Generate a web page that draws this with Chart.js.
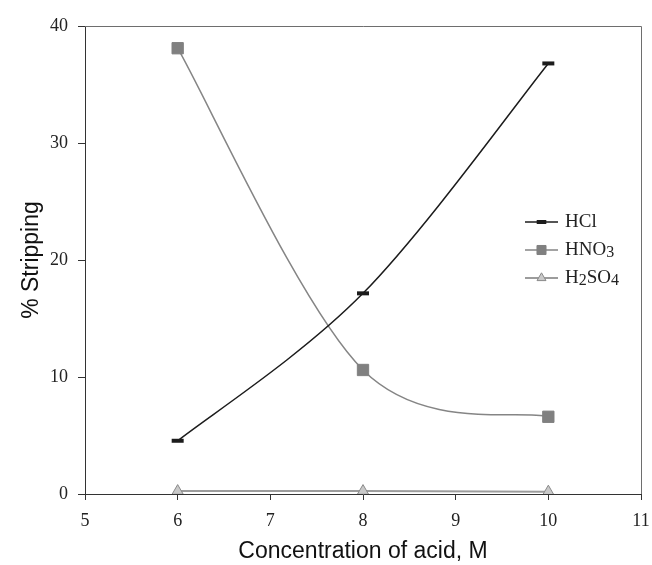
<!DOCTYPE html>
<html>
<head>
<meta charset="utf-8">
<script src="https://cdn.jsdelivr.net/npm/chart.js@4.4.0/dist/chart.umd.min.js"></script>
<style>
  html, body { margin: 0; padding: 0; background: #fff; }
</style>
</head>
<body>
<canvas id="chart" width="652" height="565"></canvas>
<script>
const concentrations = [6, 8, 10];
const hclValues = [4.55, 17.15, 36.8];
const hno3Values = [38.1, 10.6, 6.6];
const h2so4Values = [0.25, 0.25, 0.2];
const xRange = [5, 11];
const yRange = [0, 40];

const SERIF = '"Liberation Serif", "Times New Roman", serif';
const SANS = '"Liberation Sans", Arial, sans-serif';

function pts(values) {
  return concentrations.map((c, i) => ({ x: c, y: values[i] }));
}

// excel-style smoothed line: catmull-rom control points (1/6 of neighbour span)
const excelSmooth = {
  id: 'excelSmooth',
  beforeDatasetDraw(chart, args) {
    const line = args.meta.dataset;
    const p = args.meta.data;
    if (!line || p.length < 2) return;
    for (let i = 0; i < p.length; i++) {
      const prev = p[Math.max(i - 1, 0)];
      const next = p[Math.min(i + 1, p.length - 1)];
      const dx = (next.x - prev.x) / 6, dy = (next.y - prev.y) / 6;
      p[i].cp1x = p[i].x - dx; p[i].cp1y = p[i].y - dy;
      p[i].cp2x = p[i].x + dx; p[i].cp2y = p[i].y + dy;
    }
    line._pointsUpdated = true;
  }
};

// frame on top/right of the plot area, like the excel box
const framePlugin = {
  id: 'frame',
  beforeDatasetsDraw(chart) {
    const { ctx, chartArea: a } = chart;
    ctx.save();
    ctx.strokeStyle = '#6e6e6e';
    ctx.lineWidth = 1;
    ctx.beginPath();
    ctx.moveTo(a.left, a.top + 0.5);
    ctx.lineTo(a.right + 0.5, a.top + 0.5);
    ctx.lineTo(a.right + 0.5, a.bottom);
    ctx.stroke();
    ctx.restore();
  }
};

// legend drawn inside the plot: short line + marker + label with subscripts
const inLegend = {
  id: 'inLegend',
  afterDraw(chart, args, opts) {
    const { ctx } = chart;
    ctx.save();
    chart.data.datasets.forEach((ds, i) => {
      const y = opts.y + i * opts.gap;
      ctx.strokeStyle = ds.borderColor;
      ctx.lineWidth = ds.borderWidth;
      ctx.beginPath();
      ctx.moveTo(opts.x, y);
      ctx.lineTo(opts.x + opts.lineLen, y);
      ctx.stroke();
      ctx.fillStyle = ds.pointBackgroundColor;
      ctx.strokeStyle = ds.pointBorderColor;
      ctx.lineWidth = ds.pointBorderWidth;
      Chart.helpers.drawPoint(ctx, {
        pointStyle: ds.pointStyle, rotation: 0,
        radius: ds.pointRadius * 0.8, borderWidth: ds.pointBorderWidth
      }, opts.x + opts.lineLen / 2, y);

      let tx = opts.x + opts.lineLen + 7;
      ctx.fillStyle = '#222';
      ctx.textBaseline = 'middle';
      ctx.textAlign = 'left';
      for (const ch of ds.label) {
        const code = ch.charCodeAt(0);
        if (code >= 0x2080 && code <= 0x2089) {
          ctx.font = '16px ' + SERIF;
          const d = String(code - 0x2080);
          ctx.fillText(d, tx, y + 3);
          tx += ctx.measureText(d).width;
        } else {
          ctx.font = '19px ' + SERIF;
          ctx.fillText(ch, tx, y);
          tx += ctx.measureText(ch).width;
        }
      }
    });
    ctx.restore();
  }
};

new Chart(document.getElementById('chart'), {
  type: 'line',
  data: {
    datasets: [
      {
        label: 'HCl', data: pts(hclValues),
        borderColor: '#1c1c1c', borderWidth: 1.5, tension: 0.4,
        pointStyle: 'line', pointRadius: 6, pointBorderWidth: 4,
        pointBackgroundColor: '#1c1c1c', pointBorderColor: '#1c1c1c'
      },
      {
        label: 'HNO₃', data: pts(hno3Values),
        borderColor: '#858585', borderWidth: 1.5, tension: 0.4,
        pointStyle: 'rect', pointRadius: 8, pointBorderWidth: 1,
        pointBackgroundColor: '#808080', pointBorderColor: '#808080'
      },
      {
        label: 'H₂SO₄', data: pts(h2so4Values),
        borderColor: '#9c9c9c', borderWidth: 2, tension: 0.4,
        pointStyle: 'triangle', pointRadius: 6.5, pointBorderWidth: 1,
        pointBackgroundColor: '#c9c9c9', pointBorderColor: '#8a8a8a'
      }
    ]
  },
  options: {
    responsive: false,
    animation: false,
    layout: { padding: { top: 26, right: 0, left: 0, bottom: 0 } },
    plugins: {
      legend: { display: false },
      tooltip: { enabled: false },
      inLegend: { x: 525, y: 222, gap: 28, lineLen: 33 }
    },
    scales: {
      x: {
        type: 'linear', min: xRange[0], max: xRange[1],
        afterFit: s => { s.height = 71; s.paddingLeft = 0; s.paddingRight = 11; },
        ticks: { stepSize: 1, color: '#222', padding: 10, font: { family: SERIF, size: 18 } },
        grid: { drawOnChartArea: false, drawTicks: true, tickLength: 6, color: '#333' },
        border: { color: '#333', width: 1 },
        title: { display: true, text: 'Concentration of acid, M', color: '#111',
                 font: { family: SANS, size: 23 }, padding: { top: 0, bottom: 0 } }
      },
      y: {
        min: yRange[0], max: yRange[1],
        afterFit: s => { s.width = 85; },
        ticks: { stepSize: 10, color: '#222', padding: 10, font: { family: SERIF, size: 18 } },
        grid: { drawOnChartArea: false, drawTicks: true, tickLength: 7, color: '#333' },
        border: { color: '#333', width: 1 },
        title: { display: true, text: '% Stripping', color: '#111',
                 font: { family: SANS, size: 23 }, padding: { top: 18, bottom: 0 } }
      }
    }
  },
  plugins: [excelSmooth, framePlugin, inLegend]
});
</script>
</body>
</html>
